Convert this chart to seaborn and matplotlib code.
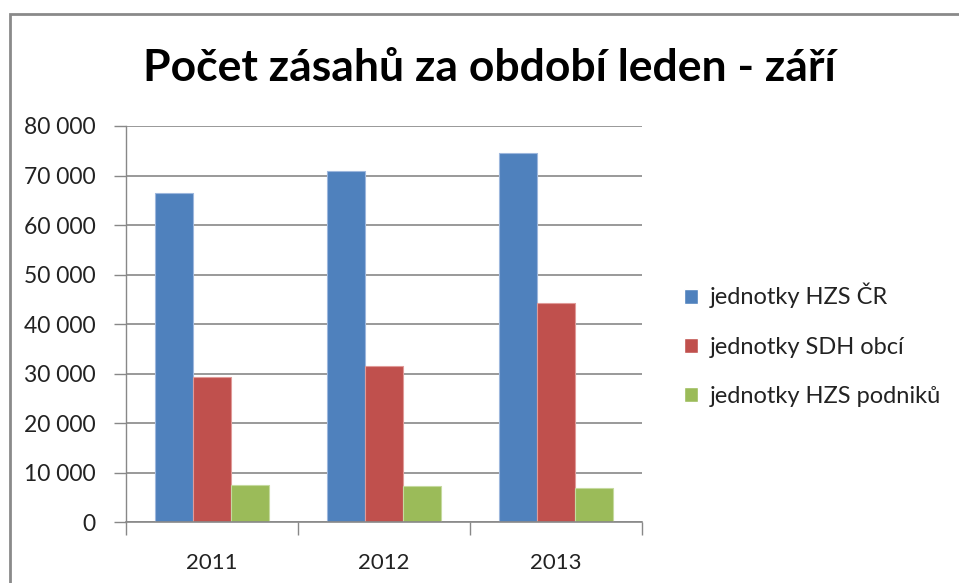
import matplotlib
matplotlib.use("Agg")
import matplotlib.pyplot as plt
import seaborn as sns
import pandas as pd
from matplotlib.ticker import FuncFormatter, FixedLocator
from matplotlib.patches import Rectangle

years = ["2011", "2012", "2013"]
series = ["jednotky HZS ČR", "jednotky SDH obcí", "jednotky HZS podniků"]
hzs_cr = [66400, 71000, 74600]
sdh_obci = [29400, 31500, 44200]
hzs_podniku = [7500, 7300, 7000]
colors = ["#4F81BD", "#C0504D", "#9BBB59"]
edges = ["#9DB7DD", "#E09A98", "#C5DA9F"]
yticks = [0, 10000, 20000, 30000, 40000, 50000, 60000, 70000, 80000]

rows = []
for s, vals in zip(series, [hzs_cr, sdh_obci, hzs_podniku]):
    for y, v in zip(years, vals):
        rows.append({"rok": y, "série": s, "počet": v})
df = pd.DataFrame(rows)

sns.set_theme(style="white")
plt.rcParams['font.family'] = ['Lato', 'DejaVu Sans']

fig = plt.figure(figsize=(9.59, 5.83), dpi=100)
ax = fig.add_axes([126/959, 1-522.3/583, (642-126)/959, (522.3-126)/583])

sns.barplot(data=df, x="rok", y="počet", hue="série", palette=colors,
            width=0.667, gap=0, ax=ax, legend=True, saturation=1)
for i, cont in enumerate(ax.containers):
    for p in cont:
        p.set_edgecolor(edges[i])
        p.set_linewidth(0.8)

ax.set_ylim(0, 80000)
ax.set_xlim(-0.5, 2.5)
ax.yaxis.set_major_locator(FixedLocator(yticks))
ax.yaxis.set_major_formatter(FuncFormatter(lambda v, p: f"{int(v):,}".replace(",", " ")))
ax.grid(axis="y", color="#888888", linewidth=1.2)
ax.set_axisbelow(True)
for side in ["top", "right"]:
    ax.spines[side].set_visible(False)
ax.spines["left"].set_color("#888888")
ax.spines["bottom"].set_color("#888888")
ax.spines["left"].set_linewidth(1.0)
ax.spines["bottom"].set_linewidth(1.2)
ax.set_xlabel("")
ax.set_ylabel("")
ax.tick_params(axis="y", which="major", left=True, length=9, width=1, color="#888888",
               labelsize=16.5, labelcolor="#222222", pad=13)
ax.tick_params(axis="x", which="major", bottom=False, labelsize=16, labelcolor="#222222", pad=16)
ax.xaxis.set_minor_locator(FixedLocator([-0.5, 0.5, 1.5, 2.5]))
ax.tick_params(axis="x", which="minor", bottom=True, length=9, width=1, color="#888888")

leg = ax.legend(loc="center left", bbox_to_anchor=(684/959, 1-345/583),
                bbox_transform=fig.transFigure, frameon=False, borderpad=0,
                borderaxespad=0,
                fontsize=17, handlelength=0.6, handleheight=0.6,
                handletextpad=0.5, labelspacing=1.2)
for t in leg.get_texts():
    t.set_color("#222222")

fig.text(489/959, 1-68/583, "Počet zásahů za období leden - září", ha="center", va="center",
         fontsize=32, fontweight="bold", color="black")

# outer chart frame
fig.add_artist(Rectangle((9.5/959, -0.05), 1.2, 1-14/583+0.05, transform=fig.transFigure,
                         fill=False, edgecolor="#8a8a8a", linewidth=2))

fig.savefig("out.png", dpi=100)
